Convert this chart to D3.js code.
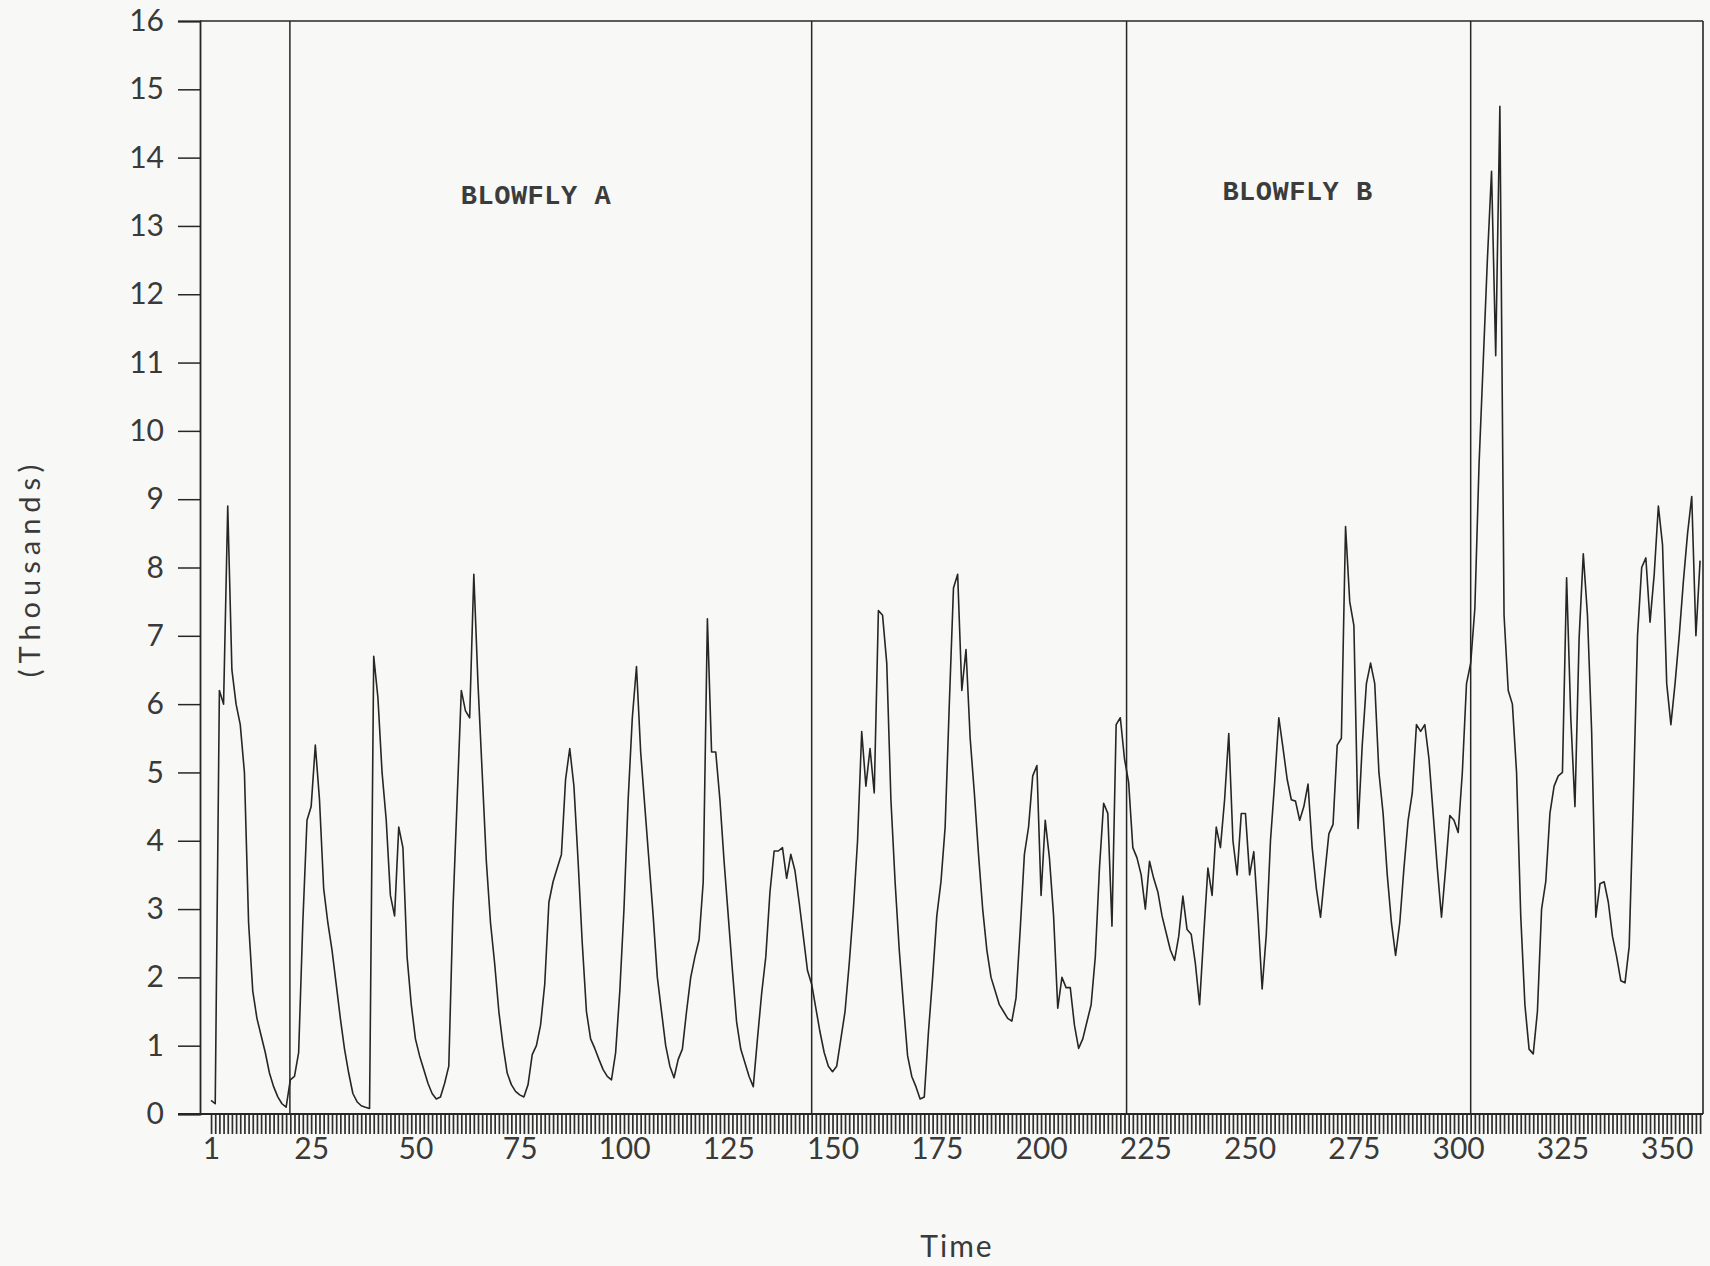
<!DOCTYPE html>
<html>
<head>
<meta charset="utf-8">
<script src="https://cdn.jsdelivr.net/npm/d3@7"></script>
<style>
  html, body { margin: 0; padding: 0; background: #f8f9f7; }
  svg { display: block; }
</style>
</head>
<body>
<svg id="chart" width="1710" height="1266"></svg>
<script>
// ---- data (thousands of blowflies per time step, t = 1..358) ----
const counts = [
  0.2, 0.15, 6.2, 6.0, 8.9, 6.5, 6.0, 5.7, 5.0, 2.8,          // 1-10
  1.8, 1.4, 1.15, 0.9, 0.6, 0.4, 0.25, 0.15, 0.1, 0.5,        // 11-20
  0.55, 0.9, 2.8, 4.3, 4.5, 5.4, 4.6, 3.3, 2.8, 2.4,          // 21-30
  1.9, 1.4, 0.95, 0.6, 0.3, 0.18, 0.12, 0.1, 0.08, 6.7,       // 31-40
  6.1, 5.0, 4.3, 3.2, 2.9, 4.2, 3.9, 2.3, 1.6, 1.1,           // 41-50
  0.85, 0.65, 0.45, 0.3, 0.22, 0.25, 0.45, 0.7, 3.0, 4.6,     // 51-60
  6.2, 5.9, 5.8, 7.9, 6.3, 5.0, 3.7, 2.8, 2.2, 1.5,           // 61-70
  1.0, 0.6, 0.43, 0.33, 0.28, 0.25, 0.43, 0.87, 1.0, 1.3,     // 71-80
  1.9, 3.1, 3.4, 3.6, 3.8, 4.9, 5.35, 4.8, 3.7, 2.5,          // 81-90
  1.5, 1.1, 0.96, 0.8, 0.65, 0.55, 0.5, 0.9, 1.8, 3.0,        // 91-100
  4.6, 5.8, 6.55, 5.3, 4.5, 3.7, 2.9, 2.0, 1.5, 1.0,          // 101-110
  0.7, 0.53, 0.8, 0.95, 1.5, 2.0, 2.3, 2.55, 3.4, 7.25,       // 111-120
  5.3, 5.3, 4.6, 3.7, 2.9, 2.1, 1.35, 0.95, 0.75, 0.55,       // 121-130
  0.4, 1.1, 1.76, 2.3, 3.25, 3.85, 3.85, 3.9, 3.45, 3.8,      // 131-140
  3.56, 3.1, 2.6, 2.1, 1.9, 1.55, 1.2, 0.9, 0.7, 0.62,        // 141-150
  0.7, 1.1, 1.5, 2.2, 3.0, 4.0, 5.6, 4.8, 5.35, 4.7,          // 151-160
  7.37, 7.3, 6.6, 4.6, 3.4, 2.4, 1.6, 0.85, 0.55, 0.4,        // 161-170
  0.22, 0.25, 1.2, 2.0, 2.9, 3.4, 4.2, 6.0, 7.7, 7.9,         // 171-180
  6.2, 6.8, 5.5, 4.7, 3.8, 3.0, 2.4, 2.0, 1.8, 1.6,           // 181-190
  1.5, 1.4, 1.36, 1.7, 2.7, 3.8, 4.2, 4.95, 5.1, 3.2,         // 191-200
  4.3, 3.75, 2.9, 1.55, 2.0, 1.85, 1.85, 1.3, 0.96, 1.1,      // 201-210
  1.35, 1.6, 2.3, 3.6, 4.55, 4.4, 2.75, 5.7, 5.8, 5.2,        // 211-220
  4.85, 3.9, 3.75, 3.5, 3.0, 3.7, 3.45, 3.25, 2.9, 2.65,      // 221-230
  2.4, 2.25, 2.6, 3.19, 2.7, 2.63, 2.2, 1.6, 2.63, 3.6,       // 231-240
  3.2, 4.2, 3.9, 4.6, 5.57, 4.0, 3.5, 4.4, 4.4, 3.5,          // 241-250
  3.84, 2.9, 1.83, 2.63, 4.0, 4.85, 5.8, 5.36, 4.9, 4.6,      // 251-260
  4.58, 4.3, 4.5, 4.83, 3.9, 3.3, 2.88, 3.5, 4.1, 4.24,       // 261-270
  5.4, 5.5, 8.6, 7.5, 7.15, 4.18, 5.4, 6.3, 6.6, 6.3,         // 271-280
  5.0, 4.4, 3.5, 2.8, 2.32, 2.8, 3.6, 4.3, 4.7, 5.7,          // 281-290
  5.6, 5.7, 5.2, 4.4, 3.6, 2.88, 3.6, 4.37, 4.3, 4.12,        // 291-300
  5.0, 6.3, 6.6, 7.4, 9.5, 11.0, 12.5, 13.8, 11.1, 14.75,     // 301-310
  7.3, 6.2, 6.0, 5.0, 2.9, 1.6, 0.95, 0.88, 1.5, 3.0,         // 311-320
  3.4, 4.4, 4.8, 4.95, 5.0, 7.85, 5.8, 4.5, 6.97, 8.2,        // 321-330
  7.3, 5.6, 2.88, 3.37, 3.4, 3.1, 2.6, 2.3, 1.95, 1.92,       // 331-340
  2.45, 4.6, 7.0, 8.0, 8.14, 7.2, 7.9, 8.9, 8.33, 6.3,        // 341-350
  5.7, 6.3, 7.0, 7.8, 8.5, 9.04, 7.0, 8.1                     // 351-358
];
const firstTime = 1;
const xTickLabels = [1, 25, 50, 75, 100, 125, 150, 175, 200, 225, 250, 275, 300, 325, 350];
const yTickValues = [0, 1, 2, 3, 4, 5, 6, 7, 8, 9, 10, 11, 12, 13, 14, 15, 16];
const separators = [19.9, 145, 220.5, 303];          // experiment boundaries (time)
const panelLabels = ["BLOWFLY A", "BLOWFLY B"];
const panelLabelTimes = [78.9, 261.5];
const panelLabelValues = [13.32, 13.38];
const xTitle = "Time";
const yTitle = "(Thousands)";

// ---- layout ----
const svg = d3.select("#chart");
const L = 200, R = 1703, T = 21, B = 1114;
const ink = "#262626";
const labelFont = "Lato, 'DejaVu Sans', sans-serif";

const x = d3.scaleLinear().domain([-1.65, 358.7]).range([L, R]);
const y = d3.scaleLinear().domain([0, 16]).range([B, T]);

const series = counts.map((v, i) => ({ t: firstTime + i, v }));

// frame (top and right)
svg.append("line").attr("x1", L).attr("x2", R).attr("y1", T).attr("y2", T)
  .attr("stroke", ink).attr("stroke-width", 1.6);
svg.append("line").attr("x1", R).attr("x2", R).attr("y1", T).attr("y2", B)
  .attr("stroke", ink).attr("stroke-width", 1.6);

// y axis
const yAxis = d3.axisLeft(y).tickValues(yTickValues).tickSize(22).tickPadding(14)
  .tickFormat(d3.format("d"));
const gy = svg.append("g").attr("transform", `translate(${L},0)`).call(yAxis);
gy.select(".domain").attr("stroke", ink).attr("stroke-width", 1.8);
gy.selectAll(".tick line").attr("stroke", ink).attr("stroke-width", 1.5);
gy.selectAll(".tick text").attr("fill", "#3a3a3a")
  .style("font-family", labelFont).style("font-size", "30px");

// x axis: a tick at every time step, labels every 25
const labelSet = new Set(xTickLabels);
const xAxis = d3.axisBottom(x).tickValues(d3.range(firstTime, firstTime + counts.length))
  .tickSize(20).tickPadding(4).tickFormat(d => labelSet.has(d) ? d : "");
const gx = svg.append("g").attr("transform", `translate(0,${B})`).call(xAxis);
gx.select(".domain").remove();
gx.selectAll(".tick line").attr("stroke", "#2e2e2e").attr("stroke-width", 1.7);
gx.selectAll(".tick text").attr("fill", "#3a3a3a")
  .style("font-family", labelFont).style("font-size", "30px");
svg.append("line").attr("x1", L - 22).attr("x2", R).attr("y1", B).attr("y2", B)
  .attr("stroke", ink).attr("stroke-width", 1.8);

// separators
svg.append("g").selectAll("line").data(separators).join("line")
  .attr("x1", d => x(d)).attr("x2", d => x(d))
  .attr("y1", y(0)).attr("y2", y(16))
  .attr("stroke", ink).attr("stroke-width", 1.5);

// series
const line = d3.line().x(d => x(d.t)).y(d => y(d.v));
svg.append("path").datum(series).attr("d", line)
  .attr("fill", "none").attr("stroke", ink).attr("stroke-width", 1.6)
  .attr("stroke-linejoin", "round");

// panel labels
svg.append("g").selectAll("text").data(panelLabels).join("text")
  .attr("x", (d, i) => x(panelLabelTimes[i])).attr("y", (d, i) => y(panelLabelValues[i]))
  .attr("text-anchor", "middle")
  .style("font-family", "'Liberation Mono', 'DejaVu Sans Mono', monospace")
  .style("font-size", "27px").style("font-weight", "bold").style("letter-spacing", "0.5px")
  .attr("fill", "#3c3c3c")
  .text(d => d);

// axis titles
svg.append("text").attr("x", 957).attr("y", 1257).attr("text-anchor", "middle")
  .style("font-family", labelFont).style("font-size", "30px").style("letter-spacing", "2px")
  .attr("fill", "#3a3a3a").text(xTitle);
svg.append("text").attr("transform", "translate(40,568) rotate(-90)")
  .attr("text-anchor", "middle")
  .style("font-family", labelFont).style("font-size", "29px")
  .style("letter-spacing", "6px")
  .attr("fill", "#3a3a3a").text(yTitle);
</script>
</body>
</html>
